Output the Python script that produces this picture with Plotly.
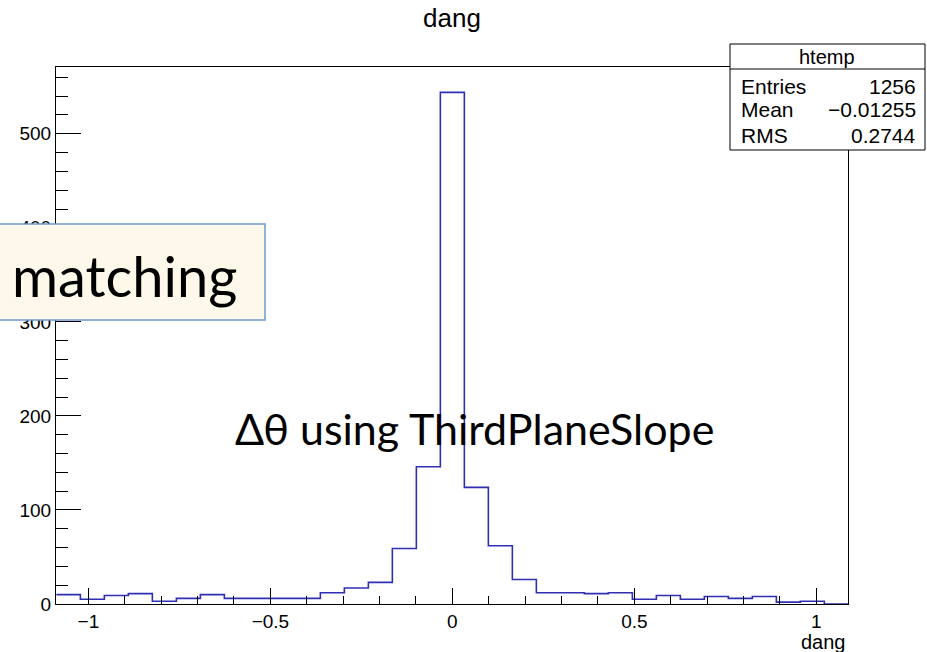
import numpy as np
import plotly.graph_objects as go

# ---- data ----
x_min = -1.088
x_max = 1.088
counts = [10, 5, 9, 11, 3, 6, 10, 6, 6, 6, 6, 12, 17, 23, 59, 146, 544,
          124, 62, 26, 12, 12, 11, 12, 5, 9, 5, 8, 6, 8, 2, 3, 0]
x_ticks = [-1, -0.5, 0, 0.5, 1]
y_ticks = [0, 100, 200, 300, 400, 500]
stats_labels = ["Entries", "Mean", "RMS"]
stats_values = ["1256", "\u22120.01255", "0.2744"]
hist_name = "htemp"
title_text = "dang"
xaxis_label = "dang"
overlay_label = "matching"
caption_text = "\u0394\u03b8 using ThirdPlaneSlope"

edges = np.linspace(x_min, x_max, len(counts) + 1)

W, H = 927, 652
L, R, T, B = 56, 848, 67, 604


def px(p):
    return (p - L) / (R - L)


def py(p):
    return (B - p) / (B - T)


fig = go.Figure()
fig.add_trace(go.Scatter(
    x=edges, y=list(counts) + [counts[-1]],
    mode="lines", line=dict(shape="hv", color="#2f2fb3", width=1.6),
    hoverinfo="skip", showlegend=False,
))

font_main = "Liberation Sans, Arial, Helvetica, sans-serif"
font_gill = "Lato, 'Open Sans', sans-serif"

shapes = [
    # stats box
    dict(type="rect", xref="paper", yref="paper",
         x0=px(730), x1=px(925), y0=py(150), y1=py(44),
         fillcolor="white", line=dict(color="black", width=1), layer="above"),
    dict(type="line", xref="paper", yref="paper",
         x0=px(730), x1=px(925), y0=py(69), y1=py(69),
         line=dict(color="black", width=1), layer="above"),
    # overlay box
    dict(type="rect", xref="paper", yref="paper",
         x0=px(-5), x1=px(265), y0=py(320), y1=py(224),
         fillcolor="#fdf8e9", line=dict(color="#6b9bd1", width=1.5), layer="above"),
]

annotations = [
    dict(text=title_text, x=px(452), y=py(18), xref="paper", yref="paper",
         xanchor="center", yanchor="middle", showarrow=False,
         font=dict(family=font_main, size=26, color="black")),
    dict(text=xaxis_label, x=px(848), y=py(642), xref="paper", yref="paper",
         xanchor="right", yanchor="middle", showarrow=False,
         font=dict(family=font_main, size=20, color="black")),
    dict(text=hist_name, x=px(827), y=py(57), xref="paper", yref="paper",
         xanchor="center", yanchor="middle", showarrow=False,
         font=dict(family=font_main, size=20, color="black")),
    dict(text=overlay_label, x=px(10), y=py(275), xref="paper", yref="paper",
         xanchor="left", yanchor="middle", showarrow=False,
         font=dict(family=font_gill, size=56, color="black")),
    dict(text=caption_text, x=px(474), y=py(428), xref="paper", yref="paper",
         xanchor="center", yanchor="middle", showarrow=False,
         font=dict(family=font_gill, size=43, color="black")),
]
row_y = [86, 110, 135]
for lab, val, yy in zip(stats_labels, stats_values, row_y):
    annotations.append(dict(text=lab, x=px(739), y=py(yy), xref="paper", yref="paper",
                            xanchor="left", yanchor="middle", showarrow=False,
                            font=dict(family=font_main, size=21, color="black")))
    annotations.append(dict(text=val, x=px(918), y=py(yy), xref="paper", yref="paper",
                            xanchor="right", yanchor="middle", showarrow=False,
                            font=dict(family=font_main, size=21, color="black")))

fig.update_layout(
    width=W, height=H,
    margin=dict(l=L, r=W - R, t=T, b=H - B, pad=0),
    paper_bgcolor="white", plot_bgcolor="white",
    shapes=shapes, annotations=annotations,
    xaxis=dict(range=[-1.089, 1.087], tickvals=x_ticks,
               ticktext=["\u22121", "\u22120.5", "0", "0.5", "1"],
               ticks="inside", ticklen=16, tickwidth=1, tickcolor="black",
               minor=dict(ticks="inside", ticklen=8, dtick=0.1, tick0=0, tickcolor="black"),
               showline=True, mirror=True, linecolor="black", linewidth=1,
               showgrid=False, zeroline=False,
               tickfont=dict(family=font_main, size=19, color="black")),
    yaxis=dict(range=[0, 571], tickvals=y_ticks,
               ticks="inside", ticklen=25, tickwidth=1, tickcolor="black",
               minor=dict(ticks="inside", ticklen=12, dtick=20, tick0=0, tickcolor="black"),
               showline=True, mirror=True, linecolor="black", linewidth=1,
               showgrid=False, zeroline=False,
               tickfont=dict(family=font_main, size=19, color="black")),
)

fig.write_html("out.html", config={"displayModeBar": False},
               post_script="document.body.style.margin='0';document.body.style.overflow='hidden';")
